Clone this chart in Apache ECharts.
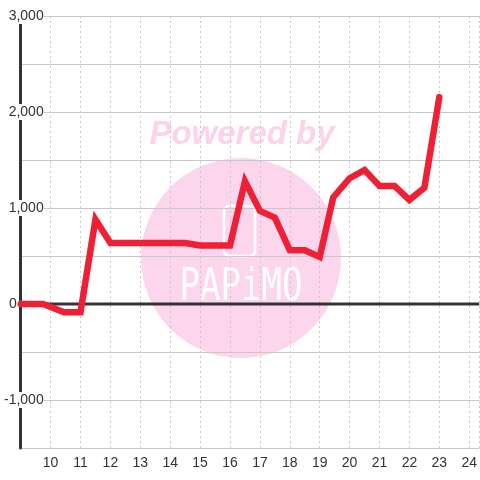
<!DOCTYPE html>
<html>
<head>
<meta charset="utf-8">
<script src="https://cdn.jsdelivr.net/npm/echarts@6/dist/echarts.min.js"></script>
<style>html,body{margin:0;padding:0;background:#fff;}#c{width:480px;height:480px;}</style>
</head>
<body>
<div id="c"></div>
<script>
// Data (hours of day, value)
var times  = [9, 9.75, 10.45, 11, 11.5, 12, 14.5, 15, 16, 16.5, 17, 17.5, 18, 18.5, 19, 19.45, 20, 20.5, 21, 21.5, 22, 22.5, 23];
var values = [0, 0, -85, -85, 880, 635, 635, 610, 610, 1280, 970, 900, 560, 560, 490, 1110, 1310, 1395, 1230, 1230, 1085, 1210, 2155];
var xTickLabels = ['10','11','12','13','14','15','16','17','18','19','20','21','22','23','24'];
var yTickLabels = ['-1,000','0','1,000','2,000','3,000'];
var yTickValues = [-1000, 0, 1000, 2000, 3000];
var baselineX = [9, 24.3333];
var baselineY = [0, 0];

var lineData = times.map(function(t, i){ return [t, values[i]]; });
var baseData = baselineX.map(function(t, i){ return [t, baselineY[i]]; });

var chart = echarts.init(document.getElementById('c'));
chart.setOption({
  animation: false,
  backgroundColor: '#fff',
  grid: {left: 20, right: 0, top: 16, bottom: 32, containLabel: false},
  graphic: [
    {type: 'circle', z: -10, shape: {cx: 241, cy: 258, r: 100}, style: {fill: '#fcd6ec'}},
    {type: 'text', z: -10, x: 242, y: 135, style: {text: 'Powered by', fill: '#fcd3ea', font: 'italic bold 33px "Liberation Sans", Arial, sans-serif', align: 'center', verticalAlign: 'middle'}},
    {type: 'rect', z: -9, shape: {x: 224, y: 206, width: 31, height: 50, r: 5}, style: {fill: 'none', stroke: '#fff', lineWidth: 2.5}},
    {type: 'text', z: -9, x: 241, y: 289, scaleY: 1.3, style: {text: 'PAPiMO', fill: '#fff', font: '34px "DejaVu Sans Mono", monospace', align: 'center', verticalAlign: 'middle'}}
  ],
  xAxis: {
    type: 'value', min: 9, max: 24.3333, interval: 1,
    axisLine: {show: true, lineStyle: {color: '#ccc', width: 1}},
    axisTick: {show: false},
    axisLabel: {
      color: '#333', fontSize: 14, fontFamily: '"Liberation Sans", Arial, sans-serif', margin: 8,
      showMinLabel: false, showMaxLabel: false,
      formatter: function(v){
        var idx = Math.round(v) - 10;
        if (Math.abs(v - Math.round(v)) > 1e-6 || idx < 0 || idx >= xTickLabels.length) return '';
        return xTickLabels[idx];
      }
    },
    splitLine: {show: true, lineStyle: {color: '#c8c8c8', type: [2, 3], width: 1}}
  },
  yAxis: {
    type: 'value', min: -1500, max: 3000, interval: 500,
    axisLine: {show: true, onZero: false, lineStyle: {color: '#333', width: 3}},
    axisTick: {show: false},
    axisLabel: {
      margin: -23, align: 'right',
      formatter: function(v){
        var i = yTickValues.indexOf(v);
        if (i < 0) return '';
        if (v === 0) return '{z|' + yTickLabels[i] + '}';
        return '{a|' + yTickLabels[i] + '}';
      },
      rich: {
        a: {color: '#333', fontSize: 14, fontFamily: '"Liberation Sans", Arial, sans-serif', backgroundColor: '#fff', padding: [1, 0, 1, 1]},
        z: {color: '#333', fontSize: 14, fontFamily: '"Liberation Sans", Arial, sans-serif', padding: [0, 27, 0, 0]}
      }
    },
    splitLine: {show: true, lineStyle: {color: '#c8c8c8', width: 1}}
  },
  series: [
    {
      type: 'line', data: baseData, symbol: 'none', silent: true, z: 1,
      lineStyle: {color: '#333', width: 3}
    },
    {
      type: 'line', data: lineData, symbol: 'none', clip: false, z: 3,
      lineStyle: {color: '#ef1f35', width: 6.5, cap: 'round', join: 'miter'}
    }
  ]
});
</script>
</body>
</html>
